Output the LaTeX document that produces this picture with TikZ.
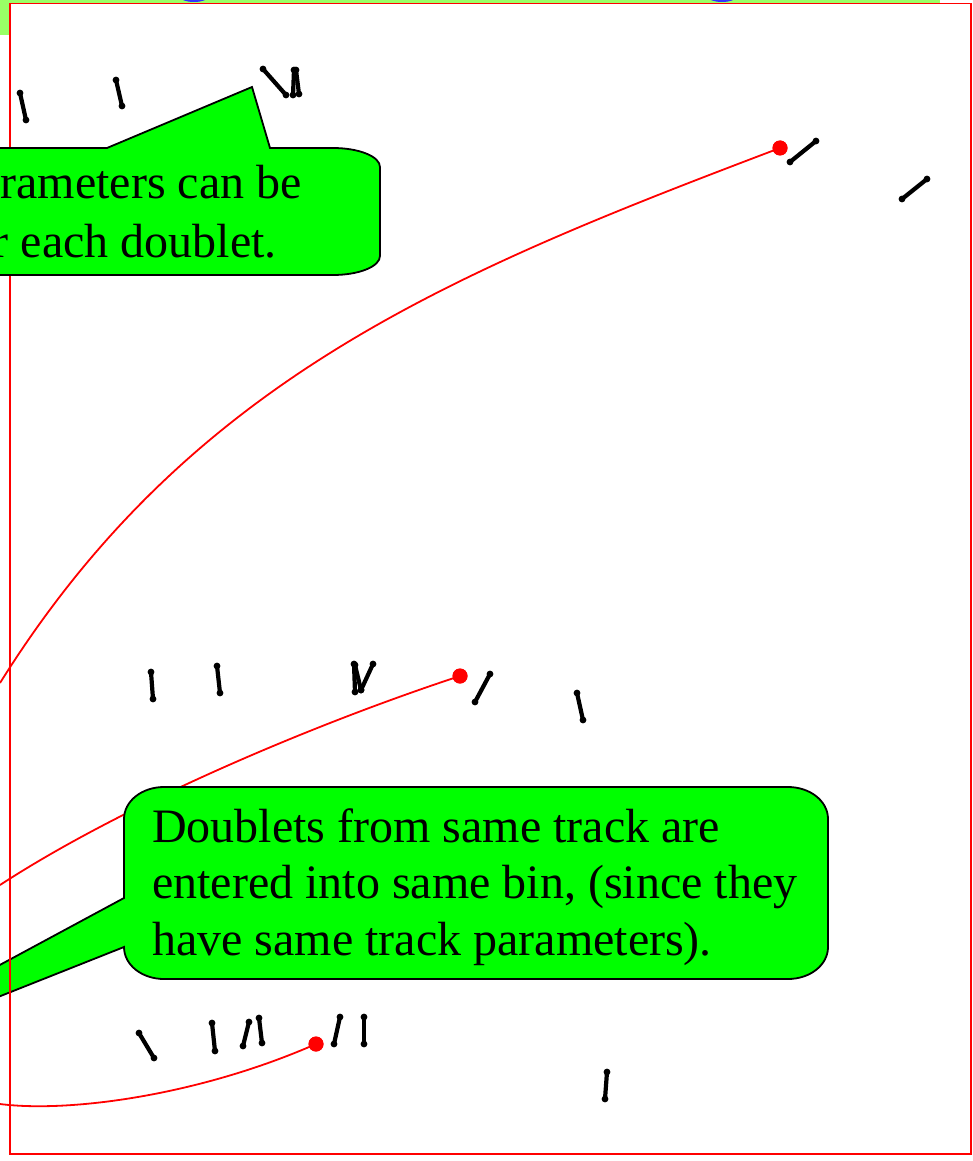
\documentclass[tikz,border=0pt]{standalone}
\usepackage{fontspec}
\setmainfont{Liberation Serif}
\definecolor{calloutgreen}{HTML}{00FF00}
\definecolor{bandgreen}{HTML}{99FF66}
\definecolor{framered}{HTML}{FF0000}
\definecolor{topblue}{HTML}{3333FF}
\tikzset{
  redline/.style={draw=framered, line width=1.8pt},
  reddot/.style={circle, fill=framered, inner sep=0pt, minimum size=15pt},
  dbl/.style={line width=4.2pt, line cap=round, black},
  callout/.style={fill=calloutgreen, draw=black, line width=1.8pt, line join=miter},
  txt/.style={font=\fontsize{48}{56}\selectfont, inner sep=0pt},
}
\begin{document}
\begin{tikzpicture}[x=1pt, y=-1pt]
\useasboundingbox (0,0) rectangle (973,1161);
\clip (0,0) rectangle (973,1161);
\fill[white] (0,0) rectangle (973,1161);
% top band remnants
\fill[bandgreen] (0,0) rectangle (940,3);
\fill[bandgreen] (0,0) rectangle (9,35);
\fill[topblue] (194,-3) ellipse[x radius=14, y radius=5];
\fill[topblue] (722,-3) ellipse[x radius=14, y radius=5];

% red dots and free ends
\node[reddot] (d1) at (780,148) {};
\node[reddot] (d2) at (460,676) {};
\node[reddot] (d3) at (316,1044) {};
\coordinate (e1) at (0,683);
\coordinate (e2) at (0,885);
\coordinate (e3) at (0,1104);

% red curves
\draw[redline] (d1.center) .. controls (450,273) and (190,379) .. (e1);
\draw[redline] (d2.center) .. controls (317,723) and (126,803) .. (e2);
\draw[redline] (d3.center) .. controls (200,1095) and (70,1113) .. (e3);
\node[reddot] at (d1) {};
\node[reddot] at (d2) {};
\node[reddot] at (d3) {};

% doublets
\foreach \ax/\ay/\bx/\by in {
  20/93/26/120, 116/80/122/106, 263/69/286/95, 294/70/293/95, 296/70/299/94,
  790/162/816/141, 902/199/927/179,
  151/672/153/699, 217/666/220/693, 354/664/355/692, 355/665/361/690, 361/690/373/664,
  490/674/475/702, 577/693/583/720,
  139/1033/154/1058, 212/1023/215/1051, 249/1022/243/1046, 259/1018/262/1043,
  340/1017/334/1044, 364/1017/364/1044, 607/1072/605/1099}
{
  \draw[dbl] (\ax,\ay) -- (\bx,\by);
  \fill (\ax,\ay) circle[radius=3.4pt];
  \fill (\bx,\by) circle[radius=3.4pt];
}

% lower callout
\draw[callout] (164,787) -- (788,787) .. controls (810,787) and (828,801) .. (828,819)
  -- (828,947) .. controls (828,965) and (810,979) .. (788,979)
  -- (164,979) .. controls (142,979) and (124,965) .. (124,947)
  -- (-221,1084) -- (124,898) -- (124,819)
  .. controls (124,801) and (142,787) .. (164,787) -- cycle;
\node[txt, anchor=base west] (t21) at (152,842) {Doublets from same track are};
\node[txt, anchor=base west] (t22) at (152,898) {entered into same bin, (since they};
\node[txt, anchor=base west] (t23) at (152,955) {have same track parameters).};

% frame
\draw[framered, line width=1.8pt] (10,3.5) rectangle (971,1154);

% upper callout
\draw[callout] (-20,148) -- (107,148) -- (252,87) -- (270,148) -- (333,148)
  .. controls (359,148) and (380,156.5) .. (380,167) -- (380,256)
  .. controls (380,266.5) and (359,275) .. (333,275) -- (-20,275) -- cycle;
\node[txt, anchor=base east] (t11) at (302,198) {arameters can be};
\node[txt, anchor=base east] (t12) at (277,257) {r each doublet.};
\end{tikzpicture}
\end{document}
